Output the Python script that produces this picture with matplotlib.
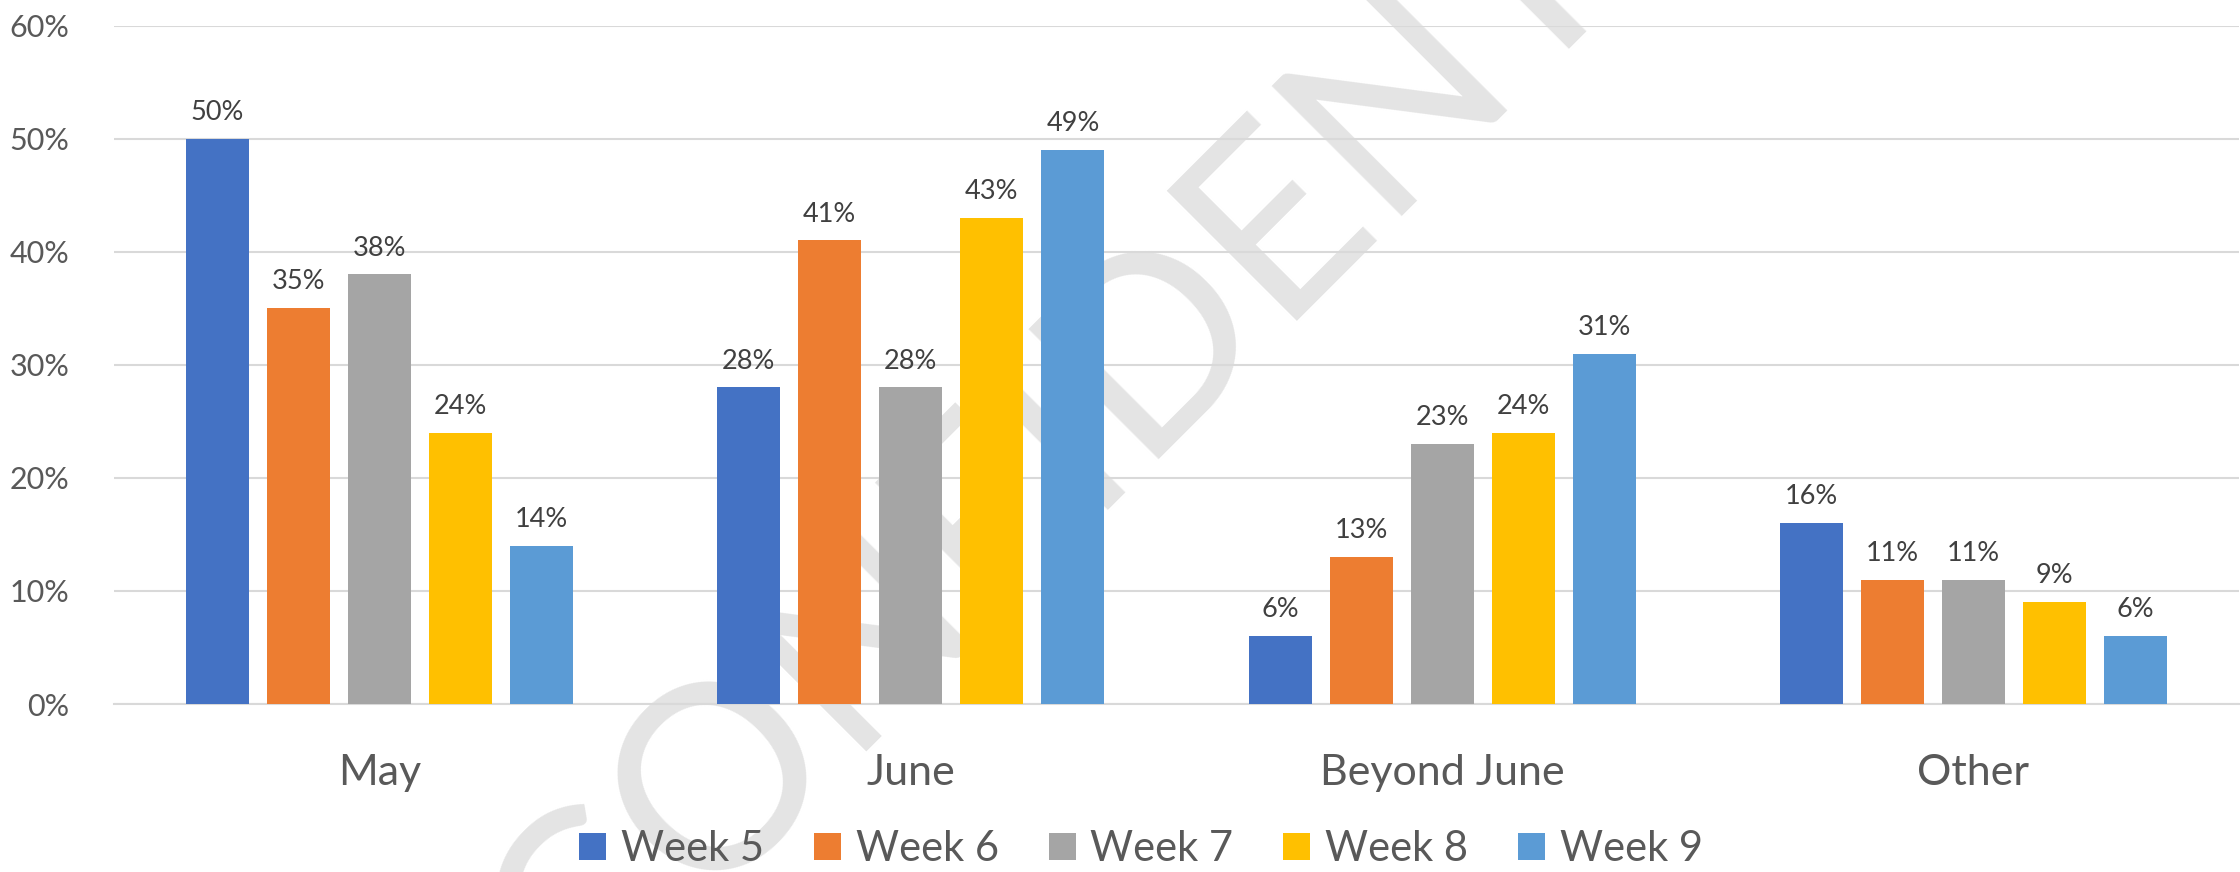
import matplotlib
matplotlib.use("Agg")
import matplotlib.pyplot as plt
from matplotlib.patches import Patch
import numpy as np

categories = ["May", "June", "Beyond June", "Other"]
series_names = ["Week 5", "Week 6", "Week 7", "Week 8", "Week 9"]
week5 = [0.50, 0.28, 0.06, 0.16]
week6 = [0.35, 0.41, 0.13, 0.11]
week7 = [0.38, 0.28, 0.23, 0.11]
week8 = [0.24, 0.43, 0.24, 0.09]
week9 = [0.14, 0.49, 0.31, 0.06]
yticks = [0.0, 0.1, 0.2, 0.3, 0.4, 0.5, 0.6]
ytick_labels = ["0%", "10%", "20%", "30%", "40%", "50%", "60%"]

colors = ["#4472C4", "#ED7D31", "#A5A5A5", "#FFC000", "#5B9BD5"]
FONT = ["Lato", "DejaVu Sans"]
plt.rcParams["font.family"] = FONT

W, H, DPI = 2240, 872, 100
fig = plt.figure(figsize=(W / DPI, H / DPI), dpi=DPI)
fig.patch.set_facecolor("white")

# watermark behind everything (baseline starts below the figure, runs up-right)
fig.text(580 / W, 1 - 1026 / H, "CONFIDENTIAL", rotation=45, rotation_mode="anchor",
         ha="left", va="baseline", fontsize=185, color="#E4E4E4", zorder=-5,
         family=FONT)

ax = fig.add_axes([114 / W, 1 - 704 / H, (2239 - 114) / W, (704 - 25.7) / H])
ax.set_facecolor("none")

x = np.arange(len(categories))
step = 81 / 531
width = 63 / 531
all_series = [week5, week6, week7, week8, week9]
for i, (vals, name, c) in enumerate(zip(all_series, series_names, colors)):
    bars = ax.bar(x + (i - 2) * step, vals, width, color=c, label=name, zorder=3)
    ax.bar_label(bars, labels=[f"{round(v * 100)}%" for v in vals], padding=10,
                 fontsize=19.5, color="#404040", family=FONT)

ax.set_xlim(-0.5, 3.5)
ax.set_ylim(0, 0.6)
ax.set_yticks(yticks)
ax.set_yticklabels(ytick_labels)
ax.set_xticks(x)
ax.set_xticklabels(categories)
ax.tick_params(axis="y", length=0, pad=32, labelsize=22, labelcolor="#595959")
ax.tick_params(axis="x", length=0, pad=36, labelsize=31, labelcolor="#595959")
ax.yaxis.grid(True, color="#D9D9D9", linewidth=1.5, zorder=0)
ax.set_axisbelow(True)
for s in ["top", "right", "left"]:
    ax.spines[s].set_visible(False)
ax.spines["bottom"].set_color("#D9D9D9")
ax.spines["bottom"].set_linewidth(1.5)

handles = [Patch(facecolor=c, edgecolor="none") for c in colors]
fig.legend(handles, series_names, loc="center", bbox_to_anchor=(1141 / W, 1 - 849 / H),
           ncol=5, frameon=False, fontsize=30, labelcolor="#595959",
           handlelength=0.65, handleheight=0.6, handletextpad=0.35, columnspacing=1.2,
           borderpad=0, borderaxespad=0)

fig.savefig("out.png", dpi=DPI, facecolor="white")
